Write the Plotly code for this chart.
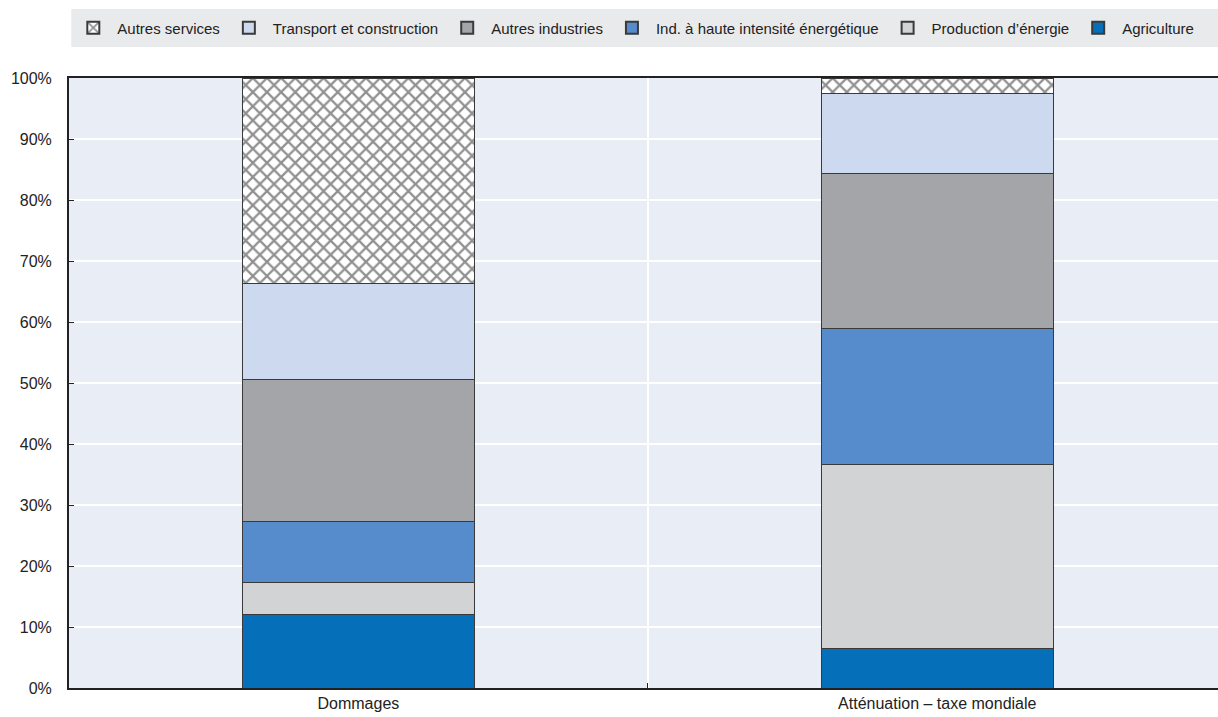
import plotly.graph_objects as go

# Sector shares of cost (%) per scenario
categories = ["Dommages", "Atténuation – taxe mondiale"]
sectors = [
    "Agriculture",
    "Production d’énergie",
    "Ind. à haute intensité énergétique",
    "Autres industries",
    "Transport et construction",
    "Autres services",
]
agriculture = [12.0, 6.4]
production_energie = [5.3, 30.2]
ind_haute_intensite = [10.0, 22.4]
autres_industries = [23.3, 25.4]
transport_construction = [15.7, 13.1]
autres_services = [33.7, 2.5]

series = [agriculture, production_energie, ind_haute_intensite,
          autres_industries, transport_construction, autres_services]
colors = ["#0570b9", "#d2d3d5", "#568bcc", "#a3a5a8", "#ccd9ef", "#ffffff"]

fig = go.Figure()
for name, vals, col in zip(sectors, series, colors):
    marker = dict(color=col, line=dict(color="#3a3a3a", width=1))
    if name == "Autres services":
        marker["pattern"] = dict(shape="x", fgcolor="#222222", bgcolor="#ffffff",
                                 size=10, solidity=0.4)
    fig.add_trace(go.Bar(x=[0, 1], y=vals, name=name, width=0.4, marker=marker))

# grey band behind the legend
fig.add_shape(type="rect", xref="paper", yref="paper",
              x0=0.002, x1=1.0, y0=1.0508, y1=1.113,
              fillcolor="#e9eaec", line=dict(width=0), layer="below")

fig.update_layout(
    barmode="stack",
    width=1218, height=717,
    margin=dict(l=69, r=0, t=78, b=29),
    paper_bgcolor="#ffffff",
    plot_bgcolor="#e9edf6",
    font=dict(family="Liberation Sans, Arial, sans-serif", size=16, color="#222222"),
    legend=dict(orientation="h", traceorder="reversed",
                x=0.492, xanchor="center", y=1.082, yanchor="middle",
                bgcolor="rgba(0,0,0,0)", font=dict(size=15),
                itemsizing="constant", itemwidth=38),
    bargap=0.6,
)
fig.update_xaxes(
    range=[-0.5, 1.485],
    tickvals=[0, 1], ticktext=categories,
    ticks="", showgrid=False,
    showline=True, linecolor="#222222", linewidth=2, mirror=True,
    minor=dict(tickvals=[0.5], ticks="inside", ticklen=5, tickcolor="#222222",
               showgrid=True, gridcolor="#ffffff", gridwidth=2),
    zeroline=False,
)
fig.update_yaxes(
    range=[0, 100], dtick=10, ticksuffix="%",
    ticks="inside", ticklen=5, tickcolor="#222222",
    showgrid=True, gridcolor="#ffffff", gridwidth=2,
    showline=True, linecolor="#222222", linewidth=2,
    zeroline=False, ticklabelstandoff=12,
)

fig.write_html("out.html")
